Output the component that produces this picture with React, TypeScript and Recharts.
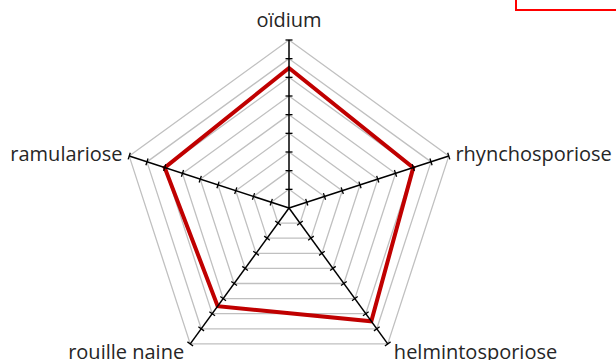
import { RadarChart, Radar, PolarGrid, PolarAngleAxis, PolarRadiusAxis } from "recharts";

const diseases = ["oïdium", "rhynchosporiose", "helmintosporiose", "rouille naine", "ramulariose"];
const scores = [7.5, 7, 7.5, 6.5, 7];
const scaleTicks = [0, 1, 2, 3, 4, 5, 6, 7, 8, 9];

const data = diseases.map((name, i) => ({ name, score: scores[i] }));

const CX = 289;
const CY = 208;
const R = 168;

// one black spoke per category, clockwise from the top like the angle axis
const spokeAngles = diseases.map((_, i) => 90 - (360 / diseases.length) * i);

// the radius axis sits on the top spoke; each of its ticks is copied onto every spoke
function SpokeTicks(props: any) {
  const { y, payload } = props;
  const r = CY - y;
  const isMax = payload.value === scaleTicks[scaleTicks.length - 1];
  return (
    <g>
      {spokeAngles.map((angle) => {
        const rad = (angle * Math.PI) / 180;
        const px = CX + r * Math.cos(rad);
        const py = CY - r * Math.sin(rad);
        const ox = Math.sin(rad) * 3.5;
        const oy = Math.cos(rad) * 3.5;
        return (
          <g key={angle}>
            {isMax && <line x1={CX} y1={CY} x2={px} y2={py} stroke="#000" strokeWidth={1.5} />}
            {payload.value !== 0 && (
              <line x1={px - ox} y1={py - oy} x2={px + ox} y2={py + oy} stroke="#000" strokeWidth={1.3} />
            )}
          </g>
        );
      })}
    </g>
  );
}

function CategoryLabel(props: any) {
  const { x, y, payload } = props;
  const style = { fontFamily: "Open Sans", fontSize: 20, fill: "#262626" };
  const dx = x - CX;
  const dy = y - CY;
  if (Math.abs(dx) < 5) {
    return (
      <text x={x} y={y - 6} textAnchor="middle" style={style}>
        {payload.value}
      </text>
    );
  }
  if (dy > 60) {
    return (
      <text x={dx > 0 ? x + 2 : x - 2} y={y + 9} textAnchor={dx > 0 ? "start" : "end"} style={style}>
        {payload.value}
      </text>
    );
  }
  return (
    <text x={x} y={y + 7} textAnchor={dx > 0 ? "start" : "end"} style={style}>
      {payload.value}
    </text>
  );
}

export default function App() {
  return (
    <div style={{ position: "absolute", left: 0, top: 0, width: 616, height: 360, overflow: "hidden", background: "#fff" }}>
      <div
        style={{
          position: "absolute",
          left: 515,
          top: -20,
          width: 130,
          height: 31,
          boxSizing: "border-box",
          border: "2px solid #ff0000",
        }}
      />
      <RadarChart width={616} height={360} cx={CX} cy={CY} outerRadius={R} data={data}>
        <PolarGrid gridType="polygon" radialLines={false} stroke="#c0c0c0" strokeWidth={1.3} />
        <PolarAngleAxis dataKey="name" tickSize={7} axisLine={false} tickLine={false} tick={CategoryLabel} />
        <PolarRadiusAxis
          angle={90}
          type="number"
          domain={[0, 9]}
          ticks={scaleTicks}
          tickCount={10}
          axisLine={false}
          tick={SpokeTicks}
        />
        <Radar
          dataKey="score"
          stroke="#c00000"
          strokeWidth={4}
          fill="none"
          fillOpacity={0}
          dot={false}
          isAnimationActive={false}
        />
      </RadarChart>
    </div>
  );
}
